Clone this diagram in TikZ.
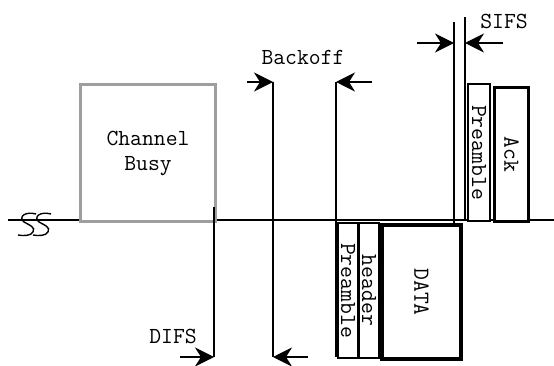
\documentclass[tikz,border=0pt]{standalone}
\usetikzlibrary{arrows.meta}
\begin{document}
\begin{tikzpicture}[x=1pt,y=-1pt,
  every node/.style={font=\ttfamily\fontsize{23}{25}\selectfont},
  lbl/.style={inner sep=0pt},
  ar/.style={-{Stealth[length=19pt,width=19pt,inset=6pt]}, line width=1.2pt},
  vline/.style={line width=1.2pt},
  box/.style={draw, fill=white, inner sep=0pt, anchor=north west},
  vtext/.style={rotate=-90, inner sep=0pt}]
\useasboundingbox (0,0) rectangle (554,366);
% baseline
\coordinate (L) at (8,220);
\coordinate (R) at (554,220);
\draw[line width=1.3pt] (L) -- (R);
% squiggle
\draw[line width=1.4pt] (36,214) .. controls (25,211) and (18,217) .. (24,222) .. controls (29,225) and (36,227) .. (33,232) .. controls (31,236) and (23,236) .. (18,235);
\draw[line width=1.4pt] (51,214) .. controls (40,211) and (33,217) .. (39,222) .. controls (44,225) and (51,227) .. (48,232) .. controls (46,236) and (38,236) .. (33,235);
% channel busy
\node[box, draw=black!38, line width=3pt, minimum width=135, minimum height=137, align=center] (busy) at (79,83) {Channel\\Busy};
% vertical lines
\coordinate (d1t) at (214,207); \coordinate (d1b) at (214,357);
\coordinate (b1t) at (273,82);  \coordinate (b1b) at (273,357);
\coordinate (b2t) at (336,82);  \coordinate (b2b) at (336,357);
\coordinate (s1t) at (454,22);  \coordinate (s1b) at (454,226);
\coordinate (s2t) at (465,17);  \coordinate (s2b) at (465,220);
\coordinate (s1m) at (454,43);  \coordinate (s2m) at (465,43);
\draw[vline] (d1t) -- (d1b);
\draw[vline] (b1t) -- (b1b);
\draw[vline] (b2t) -- (b2b);
\draw[vline] (s1t) -- (s1b);
\draw[vline] (s2t) -- (s2b);
% bottom frame boxes
\node[box, line width=2pt, minimum width=20, minimum height=135] (pre1) at (337,222) {};
\node[vtext] at (pre1.center) {Preamble};
\node[box, line width=2pt, minimum width=20, minimum height=135] (hdr) at (358,222) {};
\node[vtext] at (hdr.center) {header};
\node[box, line width=4pt, minimum width=79, minimum height=134] (data) at (380,223) {};
\node[vtext] at (data.center) {DATA};
% ack boxes
\node[box, line width=2pt, minimum width=22, minimum height=137] (pre2) at (467,83) {};
\node[vtext] at (pre2.center) {Preamble};
\node[box, line width=3pt, minimum width=34, minimum height=134] (ack) at (493,86) {};
\node[vtext] at (ack.center) {Ack};
% arrows
\coordinate (da) at (180,357); \coordinate (db) at (308,357);
\coordinate (ba) at (247,82);  \coordinate (bb) at (372,82);
\coordinate (sa) at (417,43);  \coordinate (sb) at (503,43);
\draw[ar] (da) -- (d1b);
\draw[ar] (db) -- (b1b);
\draw[ar] (ba) -- (b1t);
\draw[ar] (bb) -- (b2t);
\draw[ar] (sa) -- (s1m);
\draw[ar] (sb) -- (s2m);
% labels
\node[lbl] (difs) at (173,336) {DIFS};
\node[lbl] (backoff) at (303,57) {Backoff};
\node[lbl] (sifs) at (504,21) {SIFS};
\end{tikzpicture}
\end{document}
